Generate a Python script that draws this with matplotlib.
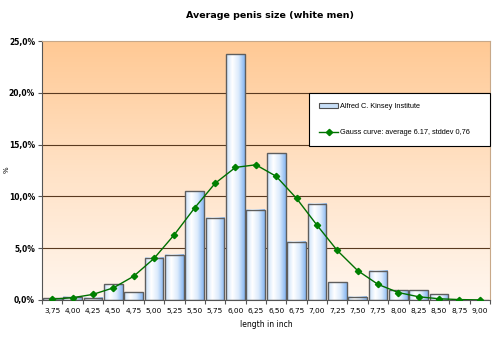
import matplotlib
matplotlib.use("Agg")
import matplotlib.pyplot as plt
import numpy as np
from matplotlib.colors import LinearSegmentedColormap
from matplotlib.lines import Line2D
from matplotlib.patches import Patch

categories = ["3,75", "4,00", "4,25", "4,50", "4,75", "5,00", "5,25", "5,50", "5,75", "6,00", "6,25",
              "6,50", "6,75", "7,00", "7,25", "7,50", "7,75", "8,00", "8,25", "8,50", "8,75", "9,00"]
kinsey = [0.15, 0.3, 0.2, 1.5, 0.75, 4.1, 4.35, 10.5, 7.95, 23.7, 8.7,
          14.15, 5.6, 9.3, 1.7, 0.3, 2.8, 0.95, 0.95, 0.55, 0.0, 0.0]
gauss = [0.08, 0.22, 0.54, 1.17, 2.29, 4.01, 6.31, 8.90, 11.26, 12.80, 13.05,
         11.94, 9.81, 7.23, 4.78, 2.84, 1.51, 0.72, 0.31, 0.12, 0.04, 0.01]
yticks = [0, 5, 10, 15, 20, 25]
ytick_labels = ["0,0%", "5,0%", "10,0%", "15,0%", "20,0%", "25,0%"]

plt.rcParams['font.family'] = ['DejaVu Sans']

fig = plt.figure(figsize=(4.95, 3.37), dpi=100)
fig.patch.set_facecolor("white")
ax = fig.add_axes([42/495, 37/337, 448/495, 259/337])

x = np.arange(len(categories))
ax.set_xlim(-0.5, len(categories) - 0.5)
ax.set_ylim(0, 25)

# background gradient
bg = LinearSegmentedColormap.from_list("bg", ["#FFF6EE", "#FFE2C6", "#FFC994"])
grad = np.linspace(0, 1, 256).reshape(-1, 1)
ax.imshow(grad, aspect="auto", cmap=bg, origin="lower",
          extent=(-0.5, len(categories) - 0.5, 0, 25), zorder=0)

for yv in yticks[1:-1]:
    ax.axhline(yv, color="#5A3A20", lw=0.8, zorder=1)

bars = ax.bar(x, kinsey, width=0.92, facecolor="none", edgecolor="#5E5E5E", lw=1.0, zorder=3)
barcm = LinearSegmentedColormap.from_list("bar", ["#C8E0FA", "#FFFFFF", "#DCEBFC", "#86B6F2"])
hgrad = np.linspace(0, 1, 64).reshape(1, -1)
for b in bars:
    bx, bw, bh = b.get_x(), b.get_width(), b.get_height()
    if bh > 0:
        ax.imshow(hgrad, aspect="auto", cmap=barcm, extent=(bx, bx + bw, 0, bh), zorder=2)

ax.plot(x, gauss, color="#007000", lw=1.0, marker="D", ms=3.2,
        markerfacecolor="#008000", markeredgecolor="#008000", zorder=4)

ax.set_yticks(yticks)
ax.set_yticklabels(ytick_labels, fontsize=5.5, fontweight="bold")
ax.set_xticks(np.arange(-0.5, len(categories), 1.0))
ax.set_xticklabels([])
ax.set_xticks(x, minor=True)
ax.set_xticklabels(categories, minor=True, fontsize=5.3)
ax.tick_params(axis="x", which="minor", length=0, pad=6)
ax.tick_params(axis="x", which="major", length=3, color="#555555")
ax.tick_params(axis="y", length=3, color="#555555", pad=2)

for s in ax.spines.values():
    s.set_color("#C8A888")
    s.set_linewidth(0.8)
ax.spines["left"].set_color("#555555")
ax.spines["bottom"].set_color("#555555")

ax.set_xlabel("length in inch", fontsize=5.5, labelpad=4)
fig.text(4/495, 1 - 170/337, "%", fontsize=5, rotation=90, va="center", ha="left")

fig.text(270/495, 1 - 16/337, "Average penis size (white men)", fontsize=6.8,
         fontweight="bold", ha="center", va="center")

handles = [Patch(facecolor="#C8DFF8", edgecolor="#505050", lw=0.8),
           Line2D([0], [0], color="#007000", lw=1.0, marker="D", ms=3.2,
                  markerfacecolor="#008000", markeredgecolor="#008000")]
labels = ["Alfred C. Kinsey Institute", "Gauss curve: average 6.17, stddev 0,76"]
leg = fig.legend(handles, labels, loc="upper left", mode="expand",
                 bbox_to_anchor=(309/495, 1 - 145/337, 181/495, 52/337),
                 prop={"family": "Liberation Sans", "size": 5.3}, frameon=True,
                 fancybox=False, edgecolor="black", facecolor="white", framealpha=1,
                 labelspacing=2.6, handlelength=2.6, handletextpad=0.3,
                 borderpad=1.35, borderaxespad=0)
leg.get_frame().set_linewidth(0.8)

fig.savefig("out.png", dpi=100)
